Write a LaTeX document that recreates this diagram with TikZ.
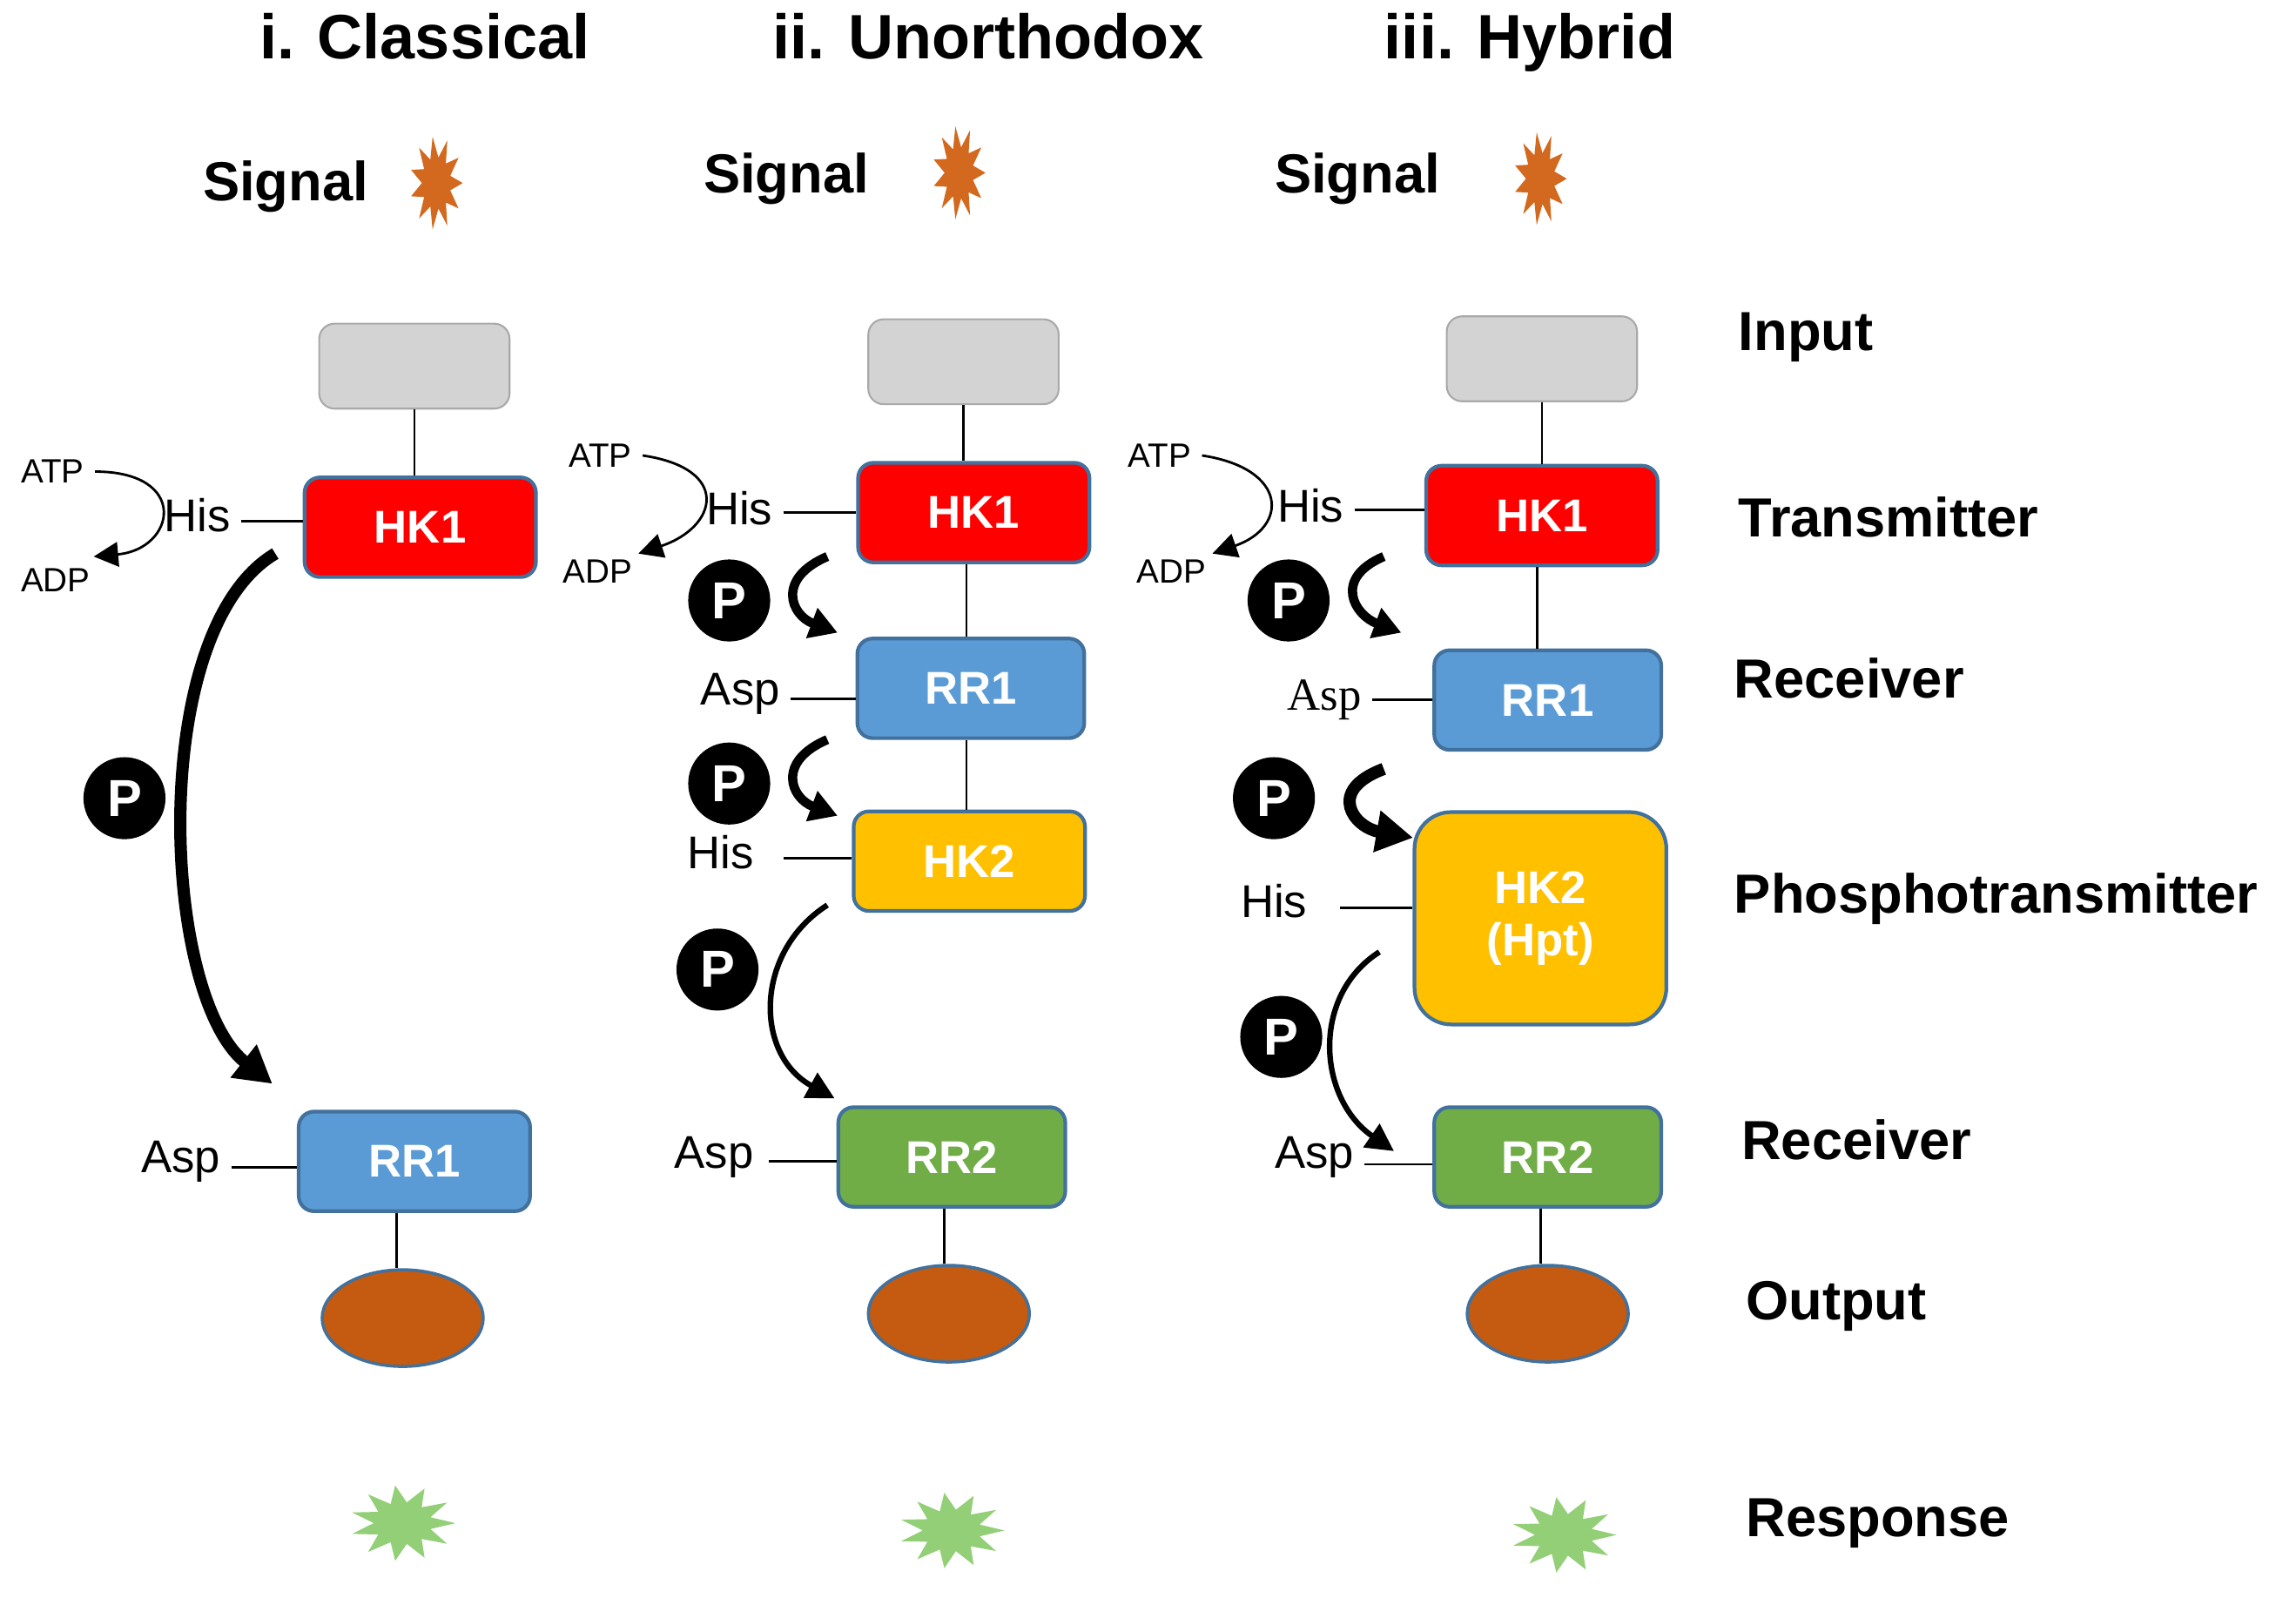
\documentclass[tikz,border=0pt]{standalone}
\usepackage{fontspec}
\setmainfont{Liberation Sans}
\newfontfamily\tms{Liberation Serif}
\usetikzlibrary{arrows.meta,shapes.geometric}
\definecolor{cred}{HTML}{FF0000}
\definecolor{cblue}{HTML}{5B9BD5}
\definecolor{cyel}{HTML}{FFC000}
\definecolor{cgrn}{HTML}{70AD47}
\definecolor{cgray}{HTML}{D3D3D3}
\definecolor{cbrown}{HTML}{C55A11}
\definecolor{corng}{HTML}{D2691E}
\definecolor{cstar}{HTML}{93CF77}
\definecolor{cedge}{HTML}{41719C}
\tikzset{
 box/.style={draw=cedge,line width=1.2pt,rounded corners=5pt,text=white,font=\fontsize{15}{17}\selectfont\bfseries,minimum width=158*0.01682cm,minimum height=68*0.01682cm,align=center},
 inbox/.style={draw=cgray!80!black,line width=0.6pt,fill=cgray,rounded corners=5pt,minimum width=130*0.01682cm,minimum height=58*0.01682cm},
 outp/.style={ellipse,draw=cedge,line width=1pt,fill=cbrown,minimum width=110*0.01682cm,minimum height=66*0.01682cm},
 title/.style={font=\fontsize{20.5}{24}\selectfont\bfseries,anchor=base},
 lab/.style={font=\fontsize{18}{20}\selectfont\bfseries,anchor=west},
 res/.style={font=\fontsize{15}{18}\selectfont},
 atp/.style={font=\fontsize{11}{13}\selectfont},
 ph/.style={circle,fill=black,text=white,inner sep=0pt,minimum size=56*0.01682cm,font=\fontsize{17}{20}\selectfont\bfseries},
 lnk/.style={line width=0.8pt},
 bigarr/.style={line width=4pt,-{Triangle[length=12pt,width=13pt]}},
 midarr/.style={line width=3pt,-{Triangle[length=9pt,width=10pt]}},
 thinarr/.style={line width=1.8pt,-{Triangle[length=9pt,width=9pt]}},
 atparr/.style={line width=0.8pt,-{Triangle[length=8pt,width=8pt]}},
}
\newcommand{\burst}[5]{% x y rx ry color
 \fill[#5,shift={(#1,#2)}] (0:#3) \foreach \i in {1,...,21}{ -- ({\i*360/22}:{ifthenelse(mod(\i,2)==0,1,0.55)*#3} and {ifthenelse(mod(\i,2)==0,1,0.55)*#4})} -- cycle;}
\begin{document}
\begin{tikzpicture}[x=0.01682cm,y=-0.01682cm]
\useasboundingbox (0,0) rectangle (1568,1091);
% titles
\node[title] (t1) at (290,40) {i. Classical};
\node[title] (t2) at (675,40) {ii. Unorthodox};
\node[title] (t3) at (1045,40) {iii. Hybrid};
\node[lab,anchor=base] (s1) at (195,137) {Signal};
\node[lab,anchor=base] (s2) at (537,132) {Signal};
\node[lab,anchor=base] (s3) at (927,132) {Signal};
\burst{298}{125}{18}{32}{corng}
\burst{655}{118}{18}{32}{corng}
\burst{1052}{122}{18}{32}{corng}
% right labels
\node[lab] (l1) at (1180,230) {Input};
\node[lab] (l2) at (1180,353) {Transmitter};
\node[lab] (l3) at (1177,463) {Receiver};
\node[lab] (l4) at (1177,614) {Phosphotransmitter};
\node[lab] (l5) at (1182,778) {Receiver};
\node[lab] (l6) at (1185,892) {Output};
\node[lab] (l7) at (1185,1040) {Response};
% ===== column 1
\node[inbox] (in1) at (283,250) {};
\node[box,fill=cred] (hk1a) at (287,360) {HK1};
\draw[lnk] (in1) -- (in1 |- hk1a.north);
\node[res,anchor=east] (his1) at (165,352) {His};
\draw[lnk] (165,356) -- (hk1a.west |- 0,356);
\node[atp] (atp1) at (36,322) {ATP};
\node[atp] (adp1) at (38,396) {ADP};
\draw[atparr] (atp1.east) .. controls (130,322) and (120,375) .. (64,380);
\node[box,fill=cblue] (rr1a) at (283,793) {RR1};
\node[res,anchor=east] (asp1) at (158,793) {Asp};
\draw[lnk] (158,797) -- (rr1a.west |- 0,797);
\draw[bigarr] (188,378) .. controls (100,430) and (110,680) .. (186,740);
\node[ph] (p1) at (85,545) {P};
\node[outp] (o1) at (275,900) {};
\draw[lnk] (rr1a.south -| 271,0) -- (o1.north -| 271,0);
\burst{275}{1040}{36}{26}{cstar}
% ===== column 2
\node[inbox] (in2) at (658,247) {};
\node[box,fill=cred] (hk1b) at (665,350) {HK1};
\draw[lnk] (in2) -- (in2 |- hk1b.north);
\node[res,anchor=east] (his2) at (535,347) {His};
\draw[lnk] (535,350) -- (hk1b.west |- 0,350);
\node[atp] (atp2) at (410,311) {ATP};
\node[atp] (adp2) at (408,390) {ADP};
\draw[atparr] (atp2.east) .. controls (500,320) and (490,360) .. (436,378);
\node[ph] (p2a) at (498,410) {P};
\draw[midarr] (565,380) .. controls (530,395) and (540,420) .. (572,432);
\node[box,fill=cblue,minimum width=155*0.01682cm] (rr1b) at (663,470) {RR1};
\draw[lnk] (hk1b.south -| 660,0) -- (rr1b.north -| 660,0);
\node[res,anchor=east] (asp2) at (540,474) {Asp};
\draw[lnk] (540,477) -- (rr1b.west |- 0,477);
\node[ph] (p2b) at (498,535) {P};
\draw[midarr] (565,505) .. controls (530,520) and (540,545) .. (572,557);
\node[box,fill=cyel] (hk2b) at (662,588) {HK2};
\draw[lnk] (rr1b.south -| 660,0) -- (hk2b.north -| 660,0);
\node[res,anchor=east] (his2b) at (522,582) {His};
\draw[lnk] (535,586) -- (hk2b.west |- 0,586);
\node[ph] (p2c) at (490,662) {P};
\draw[thinarr] (565,618) .. controls (515,650) and (515,720) .. (570,750);
\node[box,fill=cgrn,minimum width=155*0.01682cm] (rr2b) at (650,790) {RR2};
\node[res,anchor=east] (asp2b) at (522,790) {Asp};
\draw[lnk] (525,793) -- (rr2b.west |- 0,793);
\node[outp] (o2) at (648,897) {};
\draw[lnk] (rr2b.south -| 645,0) -- (o2.north -| 645,0);
\burst{650}{1045}{36}{26}{cstar}
% ===== column 3
\node[inbox] (in3) at (1053,245) {};
\node[box,fill=cred] (hk1c) at (1053,352) {HK1};
\draw[lnk] (in3) -- (in3 |- hk1c.north);
\node[res,anchor=east] (his3) at (925,345) {His};
\draw[lnk] (925,348) -- (hk1c.west |- 0,348);
\node[atp] (atp3) at (792,311) {ATP};
\node[atp] (adp3) at (800,390) {ADP};
\draw[atparr] (atp3.east) .. controls (880,320) and (880,360) .. (828,378);
\node[ph] (p3a) at (880,410) {P};
\draw[midarr] (945,380) .. controls (910,395) and (925,420) .. (957,432);
\node[box,fill=cblue,minimum width=155*0.01682cm] (rr1c) at (1057,478) {RR1};
\draw[lnk] (hk1c.south -| 1050,0) -- (rr1c.north -| 1050,0);
\node[res,anchor=east,font=\tms\fontsize{15}{18}\selectfont] (asp3) at (937,478) {Asp};
\draw[lnk] (937,478) -- (rr1c.west |- 0,478);
\node[ph] (p3b) at (870,545) {P};
\draw[bigarr] (945,525) .. controls (905,540) and (925,565) .. (965,572);
\node[box,fill=cyel,minimum width=172*0.01682cm,minimum height=145*0.01682cm,rounded corners=12pt] (hk2c) at (1052,627) {HK2\\(Hpt)};
\node[res,anchor=east] (his3b) at (900,615) {His};
\draw[lnk] (915,620) -- (hk2c.west |- 0,620);
\node[ph] (p3c) at (875,708) {P};
\draw[thinarr] (942,650) .. controls (895,680) and (900,750) .. (952,786);
\node[box,fill=cgrn,minimum width=155*0.01682cm] (rr2c) at (1057,790) {RR2};
\node[res,anchor=east] (asp3b) at (932,790) {Asp};
\draw[lnk] (932,795) -- (rr2c.west |- 0,795);
\node[outp] (o3) at (1057,897) {};
\draw[lnk] (rr2c.south -| 1052,0) -- (o3.north -| 1052,0);
\burst{1068}{1048}{36}{26}{cstar}
\end{tikzpicture}
\end{document}
